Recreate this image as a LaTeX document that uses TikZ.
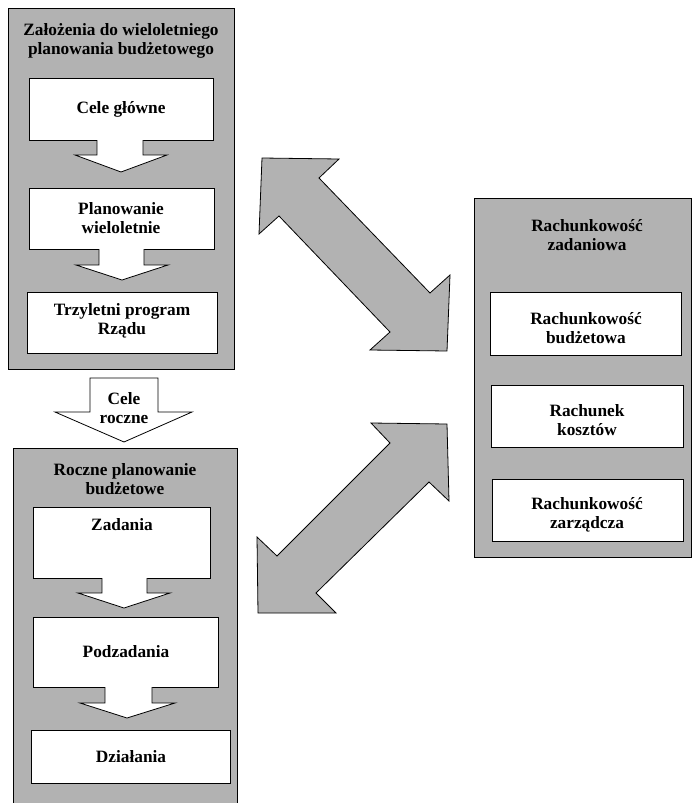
\documentclass[tikz,border=0pt]{standalone}
\usepackage{fontspec}
\setmainfont{Liberation Serif}
\begin{document}
\begin{tikzpicture}[x=1pt,y=-1pt,
  every node/.style={font=\fontsize{17.3}{19.5}\selectfont\bfseries, align=center, inner sep=0pt},
  panel/.style={draw=black, line width=1pt, fill=panelgray},
  whitebox/.style={draw=black, line width=1pt, fill=white},
  blockarrow/.style={draw=black, line width=0.8pt, fill=white, line join=miter},
  bigarrow/.style={draw=black, line width=0.8pt, fill=panelgray, line join=miter}]
\definecolor{panelgray}{gray}{0.70}
\useasboundingbox (0,0) rectangle (692,803);
% ---------- top-left panel ----------
\draw[panel] (8,8) rectangle (234,369);
\node (t1) at (121,41) {Założenia do wieloletniego\\planowania budżetowego};
\draw[whitebox] (29,78) rectangle (213,140);
\node (cele) at (121,109) {Cele główne};
\draw[blockarrow] (97,140) -- (97,155) -- (75,155) -- (121,172) -- (167,155) -- (143,155) -- (143,140);
\draw[whitebox] (29,188) rectangle (214,249);
\node (plan) at (121,218) {Planowanie\\wieloletnie};
\draw[blockarrow] (99,249) -- (99,265) -- (76,265) -- (122,280) -- (168,265) -- (144,265) -- (144,249);
\draw[whitebox] (27,292) rectangle (217,353);
\node (trzy) at (122,321) {Trzyletni program\\Rządu};
% ---------- Cele roczne arrow ----------
\draw[blockarrow] (90,378) -- (158,378) -- (158,412) -- (192,412) -- (124,442) -- (55,412) -- (90,412) -- cycle;
\node (roczne) at (124,408) {Cele\\roczne};
% ---------- bottom-left panel ----------
\begin{scope}
\clip (0,0) rectangle (692,803);
\draw[panel] (13,448) rectangle (237,830);
\end{scope}
\node (t2) at (125,479) {Roczne planowanie\\budżetowe};
\draw[whitebox] (33,507) rectangle (210,578);
\node (zad) at (122,525) {Zadania};
\draw[blockarrow] (102,578) -- (102,593) -- (78,593) -- (124,608) -- (170,593) -- (147,593) -- (147,578);
\draw[whitebox] (33,617) rectangle (218,687);
\node (pod) at (126,652) {Podzadania};
\draw[blockarrow] (105,687) -- (105,703) -- (80,703) -- (127,718) -- (175,703) -- (152,703) -- (152,687);
\draw[whitebox] (31,730) rectangle (230,783);
\node (dzi) at (131,757) {Działania};
% ---------- right panel ----------
\draw[panel] (474,198) rectangle (691,557);
\node (t3) at (587,235) {Rachunkowość\\zadaniowa};
\draw[whitebox] (490,292) rectangle (681,355);
\node (rb) at (586,328) {Rachunkowość\\budżetowa};
\draw[whitebox] (491,385) rectangle (683,447);
\node (rk) at (587,420) {Rachunek\\kosztów};
\draw[whitebox] (492,479) rectangle (683,541);
\node (rz) at (587,515) {Rachunkowość\\zarządcza};
% ---------- big double arrows ----------
\draw[bigarrow] (262,158) -- (339,159) -- (319,178) -- (430,293) -- (450,275) -- (447,351) -- (370,350) -- (390,332) -- (279,216) -- (259,234) -- cycle;
\draw[bigarrow] (371,423) -- (447,424) -- (449,501) -- (429,482) -- (316,593) -- (336,613) -- (258,613) -- (257,537) -- (277,556) -- (390,443) -- cycle;
\end{tikzpicture}
\end{document}
